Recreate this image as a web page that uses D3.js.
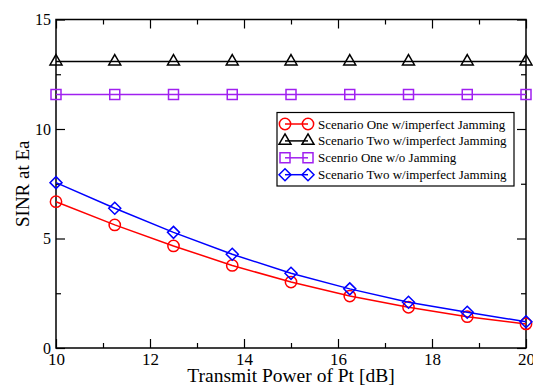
<!DOCTYPE html>
<html>
<head>
<meta charset="utf-8">
<script src="https://cdn.jsdelivr.net/npm/d3@7"></script>
<style>
  body { margin: 0; background: #fff; }
  svg text { font-family: "Liberation Serif", "Times New Roman", Times, "DejaVu Serif", serif; }
</style>
</head>
<body>
<figure id="chart" style="margin:0"></figure>
<script>
// x values (Transmit Power of Pt, dB)
const power = [10, 11.25, 12.5, 13.75, 15, 16.25, 17.5, 18.75, 20];

// SINR at Ea for each scenario
const scenarioOneImperfect = [6.68, 5.62, 4.66, 3.77, 3.01, 2.37, 1.86, 1.43, 1.10];
const scenarioTwoImperfect = [13.08, 13.08, 13.08, 13.08, 13.08, 13.08, 13.08, 13.08, 13.08];
const scenarioOneNoJamming = [11.58, 11.58, 11.58, 11.58, 11.58, 11.58, 11.58, 11.58, 11.58];
const scenarioTwoImperfectB = [7.55, 6.38, 5.28, 4.28, 3.41, 2.70, 2.09, 1.63, 1.20];

const xTicks = [10, 12, 14, 16, 18, 20];
const yTicks = [0, 5, 10, 15];

const seriesNames = [
  'Scenario One w/imperfect Jamming',
  'Scenario Two w/imperfect Jamming',
  'Scenrio One w/o Jamming',
  'Scenario Two w/imperfect Jamming'
];

const width = 533;
const height = 387;
const margin = {left: 56, right: 7, top: 19.5, bottom: 39};
const serif = '"Liberation Serif", "Times New Roman", Times, "DejaVu Serif", serif';

const series = [
  {name: seriesNames[0], values: scenarioOneImperfect, color: '#ff0000', symbol: 'circle'},
  {name: seriesNames[1], values: scenarioTwoImperfect, color: '#000000', symbol: 'triangle'},
  {name: seriesNames[2], values: scenarioOneNoJamming, color: '#a020f0', symbol: 'square'},
  {name: seriesNames[3], values: scenarioTwoImperfectB, color: '#0000ff', symbol: 'diamond'}
];

const svg = d3.select('#chart')
  .append('svg')
  .attr('width', width)
  .attr('height', height)
  .attr('font-family', serif);

const x = d3.scaleLinear()
  .domain([10, 20])
  .range([margin.left, width - margin.right]);

const y = d3.scaleLinear()
  .domain([0, 15])
  .range([height - margin.bottom, margin.top]);

const x0 = x.range()[0], x1 = x.range()[1];
const y0 = y.range()[0], y1 = y.range()[1];

const styleAxis = g => {
  g.attr('font-family', serif);
  g.select('.domain').remove();
  g.selectAll('.tick line').attr('stroke', '#000').attr('stroke-width', 1.2);
};

// major + minor ticks on all four sides, pointing inward
svg.append('g')
  .attr('transform', `translate(0,${y0})`)
  .call(d3.axisBottom(x).tickValues(xTicks).tickSizeInner(-9).tickSizeOuter(0).tickPadding(5))
  .call(styleAxis)
  .call(g => g.selectAll('.tick text').attr('fill', '#000').attr('font-size', 17));

svg.append('g')
  .attr('transform', `translate(0,${y0})`)
  .call(d3.axisBottom(x).tickValues(d3.range(11, 20, 2)).tickSizeInner(-5).tickSizeOuter(0).tickFormat(''))
  .call(styleAxis);

svg.append('g')
  .attr('transform', `translate(0,${y1})`)
  .call(d3.axisTop(x).tickValues(xTicks).tickSizeInner(-9).tickSizeOuter(0).tickFormat(''))
  .call(styleAxis);

svg.append('g')
  .attr('transform', `translate(0,${y1})`)
  .call(d3.axisTop(x).tickValues(d3.range(11, 20, 2)).tickSizeInner(-5).tickSizeOuter(0).tickFormat(''))
  .call(styleAxis);

svg.append('g')
  .attr('transform', `translate(${x0},0)`)
  .call(d3.axisLeft(y).tickValues(yTicks).tickSizeInner(-9).tickSizeOuter(0).tickPadding(5))
  .call(styleAxis)
  .call(g => g.selectAll('.tick text').attr('fill', '#000').attr('font-size', 16));

svg.append('g')
  .attr('transform', `translate(${x0},0)`)
  .call(d3.axisLeft(y).tickValues([2.5, 7.5, 12.5]).tickSizeInner(-5).tickSizeOuter(0).tickFormat(''))
  .call(styleAxis);

svg.append('g')
  .attr('transform', `translate(${x1},0)`)
  .call(d3.axisRight(y).tickValues(yTicks).tickSizeInner(-9).tickSizeOuter(0).tickFormat(''))
  .call(styleAxis);

svg.append('g')
  .attr('transform', `translate(${x1},0)`)
  .call(d3.axisRight(y).tickValues([2.5, 7.5, 12.5]).tickSizeInner(-5).tickSizeOuter(0).tickFormat(''))
  .call(styleAxis);

// plot frame
svg.append('rect')
  .attr('x', x0)
  .attr('y', y1)
  .attr('width', x1 - x0)
  .attr('height', y0 - y1)
  .attr('fill', 'none')
  .attr('stroke', '#000')
  .attr('stroke-width', 1.5);

// axis titles
svg.append('text')
  .attr('x', (x0 + x1) / 2)
  .attr('y', 381.5)
  .attr('text-anchor', 'middle')
  .attr('font-size', 19.5)
  .text('Transmit Power of Pt [dB]');

svg.append('text')
  .attr('transform', `translate(29,${(y0 + y1) / 2}) rotate(-90)`)
  .attr('text-anchor', 'middle')
  .attr('font-size', 19)
  .text('SINR at Ea');

const symbolPath = (type) => {
  if (type === 'circle') return d3.symbol(d3.symbolCircle, 100)();
  if (type === 'triangle') return 'M0,-7L6,3.4L-6,3.4Z';
  if (type === 'square') return 'M-5,-5H5V5H-5Z';
  return 'M0,-6L6,0L0,6L-6,0Z';
};

const line = d3.line()
  .x((d, i) => x(power[i]))
  .y(d => y(d));

const groups = svg.selectAll('.series')
  .data(series)
  .join('g')
  .attr('class', 'series');

groups.append('path')
  .attr('d', d => line(d.values))
  .attr('fill', 'none')
  .attr('stroke', d => d.color)
  .attr('stroke-width', 1.5);

groups.selectAll('.marker')
  .data(d => d.values.map((v, i) => ({v: v, i: i, s: d})))
  .join('path')
  .attr('class', 'marker')
  .attr('transform', d => `translate(${x(power[d.i])},${y(d.v)})`)
  .attr('d', d => symbolPath(d.s.symbol))
  .attr('fill', 'none')
  .attr('stroke', d => d.s.color)
  .attr('stroke-width', 1.5);

// legend
const legend = svg.append('g')
  .attr('transform', 'translate(277,112.5)');

legend.append('rect')
  .attr('width', 237)
  .attr('height', 73.5)
  .attr('fill', '#fff')
  .attr('stroke', '#000')
  .attr('stroke-width', 1.2);

const items = legend.selectAll('.item')
  .data(series)
  .join('g')
  .attr('class', 'item')
  .attr('transform', (d, i) => `translate(0,${11.5 + i * 16.9})`);

items.append('line')
  .attr('x1', 8)
  .attr('x2', 31)
  .attr('stroke', d => d.color)
  .attr('stroke-width', 1.5);

items.selectAll('.lm')
  .data(d => [8, 31].map(p => ({p: p, s: d})))
  .join('path')
  .attr('class', 'lm')
  .attr('transform', d => `translate(${d.p},0)`)
  .attr('d', d => symbolPath(d.s.symbol))
  .attr('fill', 'none')
  .attr('stroke', d => d.s.color)
  .attr('stroke-width', 1.5);

items.append('text')
  .attr('x', 41)
  .attr('y', 4.5)
  .attr('font-size', 13)
  .text(d => d.name);
</script>
</body>
</html>
